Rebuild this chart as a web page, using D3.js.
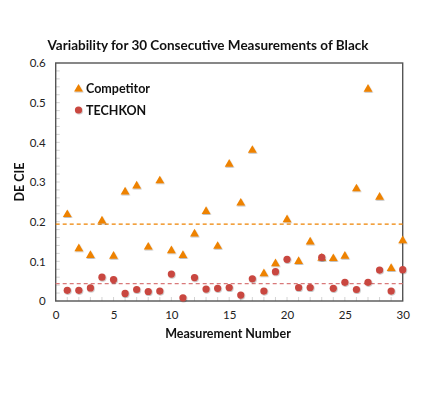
<!DOCTYPE html>
<html>
<head>
<meta charset="utf-8">
<script src="https://cdn.jsdelivr.net/npm/d3@7"></script>
<style>
  body { margin: 0; background: #fff; }
  text { font-family: Lato, "Open Sans", sans-serif; }
</style>
</head>
<body>
<svg id="chart" width="430" height="418"></svg>
<script>
const measurements = d3.range(1, 31);
const competitor = [0.218, 0.132, 0.115, 0.202, 0.113, 0.275, 0.290, 0.136, 0.303, 0.127,
                    0.115, 0.169, 0.226, 0.138, 0.345, 0.247, 0.380, 0.069, 0.094, 0.205,
                    0.100, 0.149, 0.108, 0.107, 0.113, 0.283, 0.534, 0.262, 0.082, 0.152];
const techkon = [0.027, 0.027, 0.033, 0.060, 0.054, 0.019, 0.029, 0.024, 0.025, 0.068,
                 0.008, 0.059, 0.030, 0.032, 0.034, 0.015, 0.056, 0.025, 0.074, 0.105,
                 0.034, 0.034, 0.110, 0.032, 0.047, 0.029, 0.047, 0.078, 0.025, 0.079];
const competitorMean = 0.194;
const techkonMean = 0.0437;
const xTicks = [0, 5, 10, 15, 20, 25, 30];
const yTicks = [0, 0.1, 0.2, 0.3, 0.4, 0.5, 0.6];
const seriesNames = ["Competitor", "TECHKON"];

(function () {
const svg = d3.select("#chart");
const pl = 55.7, pr = 402.7, pt = 63, pb = 301;
const x = d3.scaleLinear().domain([0, 30]).range([pl, pr]);
const y = d3.scaleLinear().domain([0, 0.6]).range([pb, pt]);

const orange = "#EE8200";
const red = "#C9473F";

const defs = svg.append("defs");
const f = defs.append("filter").attr("id", "sh").attr("x", "-50%").attr("y", "-50%").attr("width", "200%").attr("height", "200%");
f.append("feDropShadow").attr("dx", 0.6).attr("dy", 0.8).attr("stdDeviation", 0.6).attr("flood-color", "#000").attr("flood-opacity", 0.3);

// minor ticks y (inside)
svg.append("g").selectAll("line").data(d3.range(0, 31).map(i => i * 0.02))
  .join("line")
  .attr("x1", pl).attr("x2", pl + 4)
  .attr("y1", d => y(d)).attr("y2", d => y(d))
  .attr("stroke", "#c8c8c8").attr("stroke-width", 0.8);
// minor ticks x (inside)
svg.append("g").selectAll("line").data(d3.range(0, 31))
  .join("line")
  .attr("x1", d => x(d)).attr("x2", d => x(d))
  .attr("y1", pb).attr("y2", pb - 4)
  .attr("stroke", "#c8c8c8").attr("stroke-width", 0.8);

const yAxis = d3.axisLeft(y).tickValues(yTicks).tickFormat(d => d === 0 ? "0" : d3.format(".1f")(d)).tickSize(0).tickPadding(10);
const gy = svg.append("g").attr("transform", `translate(${pl},0)`).call(yAxis);
gy.select(".domain").remove();
gy.selectAll("text").attr("font-size", 11.5).attr("fill", "#222").style("font-family", "Lato, sans-serif");

const xAxis = d3.axisBottom(x).tickValues(xTicks).tickSize(0).tickPadding(10);
const gx = svg.append("g").attr("transform", `translate(0,${pb})`).call(xAxis);
gx.select(".domain").remove();
gx.selectAll("text").attr("font-size", 11.5).attr("fill", "#222").style("font-family", "Lato, sans-serif");

svg.append("rect").attr("x", pl).attr("y", pt).attr("width", pr - pl).attr("height", pb - pt)
  .attr("fill", "none").attr("stroke", "#555").attr("stroke-width", 1.4);

svg.append("line").attr("x1", pl).attr("x2", pr).attr("y1", y(competitorMean)).attr("y2", y(competitorMean))
  .attr("stroke", orange).attr("stroke-width", 1.3).attr("stroke-dasharray", "4,3");
svg.append("line").attr("x1", pl).attr("x2", pr).attr("y1", y(techkonMean)).attr("y2", y(techkonMean))
  .attr("stroke", "#D9797A").attr("stroke-width", 1.3).attr("stroke-dasharray", "4,3");

const tri = d3.symbol().type(d3.symbolTriangle).size(34);

svg.append("g").attr("filter", "url(#sh)").selectAll("path").data(competitor)
  .join("path")
  .attr("d", tri)
  .attr("transform", (d, i) => `translate(${x(measurements[i])},${y(d)})`)
  .attr("fill", orange);

svg.append("g").attr("filter", "url(#sh)").selectAll("circle").data(techkon)
  .join("circle")
  .attr("cx", (d, i) => x(measurements[i])).attr("cy", d => y(d)).attr("r", 3.6)
  .attr("fill", red);

const lg = svg.append("g");
lg.append("path").attr("d", tri).attr("transform", "translate(78.5,89)").attr("fill", orange).attr("filter", "url(#sh)");
lg.append("text").attr("x", 86).attr("y", 93).attr("font-size", 12.5).attr("font-weight", "bold").attr("fill", "#111").text(seriesNames[0]);
lg.append("circle").attr("cx", 78.5).attr("cy", 110).attr("r", 3.6).attr("fill", red).attr("filter", "url(#sh)");
lg.append("text").attr("x", 86).attr("y", 114.5).attr("font-size", 12.5).attr("font-weight", "bold").attr("fill", "#111").text(seriesNames[1]);

svg.append("text").attr("x", 208).attr("y", 49.5).attr("text-anchor", "middle")
  .attr("font-size", 13.5).attr("font-weight", "bold").attr("fill", "#111")
  .text("Variability for 30 Consecutive Measurements of Black");

svg.append("text").attr("x", 228).attr("y", 338).attr("text-anchor", "middle")
  .attr("font-size", 12.5).attr("font-weight", "bold").attr("fill", "#111")
  .text("Measurement Number");
svg.append("text").attr("transform", "translate(24,182) rotate(-90)").attr("text-anchor", "middle")
  .attr("font-size", 12.5).attr("font-weight", "bold").attr("fill", "#111")
  .text("DE CIE");
})();
</script>
</body>
</html>
